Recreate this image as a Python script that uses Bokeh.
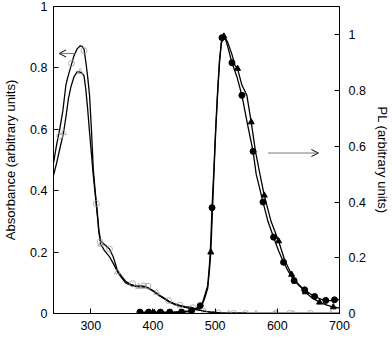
from bokeh.plotting import figure
from bokeh.models import (Range1d, LinearAxis, FixedTicker, NumeralTickFormatter,
                          Arrow, OpenHead, Label)
from bokeh.embed import file_html
from bokeh.resources import INLINE

# ---------------- data ----------------
# Absorbance, sample 1 (upper curve, open circles)
abs1_wl = [240, 245, 250, 255, 260, 263, 268, 273, 278, 283, 286, 289, 292, 295, 298,
           301, 304, 307, 310, 313, 316, 322, 330, 336, 343, 350, 356, 364, 372, 380,
           388, 395, 402, 410, 418, 426, 434, 442, 452, 462, 472, 482, 495, 510, 550,
           600, 650, 700]
abs1_val = [0.49, 0.55, 0.60, 0.66, 0.745, 0.77, 0.805, 0.84, 0.862, 0.872, 0.870, 0.862,
            0.82, 0.77, 0.71, 0.60, 0.47, 0.40, 0.34, 0.27, 0.235, 0.225, 0.21, 0.185,
            0.14, 0.12, 0.105, 0.095, 0.09, 0.09, 0.088, 0.08, 0.072, 0.06, 0.05, 0.04,
            0.032, 0.027, 0.022, 0.02, 0.013, 0.008, 0.004, 0.002, 0.001, 0.0, 0.0, 0.0]
abs1_mk_wl = [250, 269, 289, 309, 315, 330, 367, 385, 392, 425, 443, 464, 505, 530, 549,
              597, 620, 653]
abs1_mk_val = [0.578, 0.815, 0.856, 0.358, 0.233, 0.21, 0.097, 0.09, 0.089, 0.042, 0.027,
               0.019, 0.002, 0.0, 0.0, 0.0, 0.0, 0.0]

# Absorbance, sample 2 (lower curve, open triangles)
abs2_wl = [240, 245, 250, 256, 260, 264, 268, 273, 278, 282, 286, 289, 292, 295, 298,
           301, 304, 307, 310, 313, 316, 322, 330, 337, 343, 350, 356, 364, 372, 380,
           388, 395, 402, 410, 418, 426, 434, 442, 452, 462, 472, 482, 495, 510, 550,
           600, 650, 700]
abs2_val = [0.45, 0.49, 0.535, 0.588, 0.64, 0.70, 0.738, 0.771, 0.787, 0.787, 0.782, 0.775,
            0.73, 0.665, 0.59, 0.52, 0.45, 0.39, 0.33, 0.265, 0.225, 0.205, 0.185, 0.16,
            0.135, 0.115, 0.10, 0.092, 0.088, 0.087, 0.086, 0.08, 0.07, 0.058, 0.048,
            0.038, 0.03, 0.025, 0.02, 0.016, 0.012, 0.008, 0.004, 0.002, 0.001, 0.0, 0.0,
            0.0]
abs2_mk_wl = [256, 283, 316, 343, 377, 406, 483, 522, 566, 597, 626, 686]
abs2_mk_val = [0.588, 0.787, 0.225, 0.135, 0.087, 0.068, 0.007, 0.0, 0.0, 0.0, 0.0, 0.0]

# PL, sample 1 (filled circles)
pl1_wl = [375, 400, 430, 455, 465, 472, 479, 484, 488, 491, 493, 495, 498, 501, 504, 507,
          510, 513, 516, 520, 527, 535, 543, 552, 561, 566, 577, 585, 594, 602, 610, 618,
          627, 635, 644, 652, 660, 670, 678, 685, 692, 700]
pl1_val = [0.005, 0.005, 0.005, 0.008, 0.012, 0.022, 0.034, 0.07, 0.10, 0.18, 0.26, 0.38,
           0.52, 0.67, 0.80, 0.91, 0.975, 0.995, 0.99, 0.96, 0.90, 0.85, 0.783, 0.68,
           0.582, 0.50, 0.40, 0.33, 0.274, 0.225, 0.184, 0.15, 0.118, 0.10, 0.085, 0.072,
           0.061, 0.052, 0.047, 0.046, 0.049, 0.05]
pl1_mk_wl = [379, 393, 412, 427, 446, 462, 476, 495, 511, 527, 543, 561, 577, 594, 610,
             627, 644, 660, 678, 692]
pl1_mk_val = [0.005, 0.005, 0.005, 0.005, 0.005, 0.01, 0.028, 0.38, 0.99, 0.90, 0.783,
              0.582, 0.40, 0.274, 0.184, 0.118, 0.085, 0.061, 0.047, 0.049]

# PL, sample 2 (filled triangles)
pl2_wl = [375, 400, 430, 455, 465, 472, 479, 484, 488, 491, 493, 495, 498, 501, 504, 507,
          510, 514, 520, 527, 532, 536, 543, 551, 558, 565, 572, 579, 590, 602, 612, 623,
          634, 645, 656, 668, 680, 690, 700]
pl2_val = [0.003, 0.003, 0.003, 0.006, 0.01, 0.018, 0.03, 0.06, 0.09, 0.16, 0.22, 0.33,
           0.50, 0.66, 0.79, 0.90, 0.97, 0.995, 0.975, 0.93, 0.89, 0.879, 0.82, 0.783,
           0.687, 0.58, 0.50, 0.424, 0.33, 0.26, 0.19, 0.14, 0.105, 0.077, 0.056, 0.04,
           0.03, 0.023, 0.02]
pl2_mk_wl = [380, 402, 425, 493, 514, 536, 558, 579, 602, 623, 645, 668, 690]
pl2_mk_val = [0.003, 0.003, 0.003, 0.22, 0.995, 0.879, 0.687, 0.424, 0.26, 0.14, 0.077,
              0.04, 0.023]

# axes ticks
x_ticks = [300, 400, 500, 600, 700]
y_ticks = [0, 0.2, 0.4, 0.6, 0.8, 1]

# arrows pointing to the axis each pair of curves belongs to
abs_arrow = dict(x_start=276, x_end=249, y=0.847)
pl_arrow = dict(x_start=585, x_end=666, y=0.576)

FONT = "Liberation Sans"

p = figure(width=392, height=354, x_range=Range1d(240, 700), y_range=Range1d(0, 1.0),
           output_backend="svg", toolbar_location=None,
           min_border_left=51, min_border_right=48, min_border_top=6, min_border_bottom=41)
p.extra_y_ranges = {"pl": Range1d(0, 1.102)}
p.xgrid.visible = False
p.ygrid.visible = False
p.outline_line_color = "black"
p.outline_line_width = 1
p.background_fill_color = "white"
p.border_fill_color = "white"


def style_axis(ax):
    ax.major_tick_in = 5
    ax.major_tick_out = 0
    ax.minor_tick_in = 0
    ax.minor_tick_out = 0
    ax.axis_line_color = "black"
    ax.major_tick_line_color = "black"
    ax.major_label_text_font = FONT
    ax.major_label_text_font_size = "12.5px"
    ax.major_label_text_color = "black"
    ax.axis_label_text_font = FONT
    ax.axis_label_text_font_size = "13px"
    ax.axis_label_text_font_style = "normal"
    ax.axis_label_text_color = "black"


xa = p.xaxis[0]
style_axis(xa)
xa.ticker = FixedTicker(ticks=x_ticks)
xa.major_label_standoff = 7

ya = p.yaxis[0]
style_axis(ya)
ya.ticker = FixedTicker(ticks=y_ticks)
ya.formatter = NumeralTickFormatter(format="0.[0]")
ya.major_label_standoff = 6
ya.axis_label = "Absorbance (arbitrary units)"
ya.axis_label_standoff = 9

ra = LinearAxis(y_range_name="pl")
style_axis(ra)
ra.ticker = FixedTicker(ticks=y_ticks)
ra.formatter = NumeralTickFormatter(format="0.[0]")
ra.major_label_standoff = 9
ra.axis_label = "PL (arbitrary units)"
ra.axis_label_standoff = 6
p.add_layout(ra, "right")

# absorbance curves
p.line(abs1_wl, abs1_val, line_color="black", line_width=1.3)
p.line(abs2_wl, abs2_val, line_color="black", line_width=1.3)
p.scatter(abs1_mk_wl, abs1_mk_val, marker="circle", size=6, fill_color=None,
          line_color="#a0a0a0", line_width=0.8)
p.scatter(abs2_mk_wl, abs2_mk_val, marker="triangle", size=6, fill_color=None,
          line_color="#a0a0a0", line_width=0.8)

# PL curves
p.line(pl1_wl, pl1_val, line_color="black", line_width=1.3, y_range_name="pl")
p.line(pl2_wl, pl2_val, line_color="black", line_width=1.3, y_range_name="pl")
p.scatter(pl1_mk_wl, pl1_mk_val, marker="circle", size=6, fill_color="black",
          line_color="black", y_range_name="pl")
p.scatter(pl2_mk_wl, pl2_mk_val, marker="triangle", size=6, fill_color="black",
          line_color="black", y_range_name="pl")

# arrows
p.add_layout(Arrow(end=OpenHead(size=7, line_color="black", line_width=1),
                   x_start=abs_arrow["x_start"], y_start=abs_arrow["y"],
                   x_end=abs_arrow["x_end"], y_end=abs_arrow["y"],
                   line_color="#777777", line_width=1))
p.add_layout(Arrow(end=OpenHead(size=7, line_color="black", line_width=1),
                   x_start=pl_arrow["x_start"], y_start=pl_arrow["y"],
                   x_end=pl_arrow["x_end"], y_end=pl_arrow["y"],
                   line_color="#777777", line_width=1, y_range_name="pl"))

# x axis title, placed a little right of centre as in the original
p.add_layout(Label(x=495, y=-0.104, text="Wavelength (nm)", text_align="center",
                   text_baseline="middle", text_font=FONT, text_font_size="13px",
                   text_color="black"))

open("out.html", "w").write(file_html(p, INLINE))
